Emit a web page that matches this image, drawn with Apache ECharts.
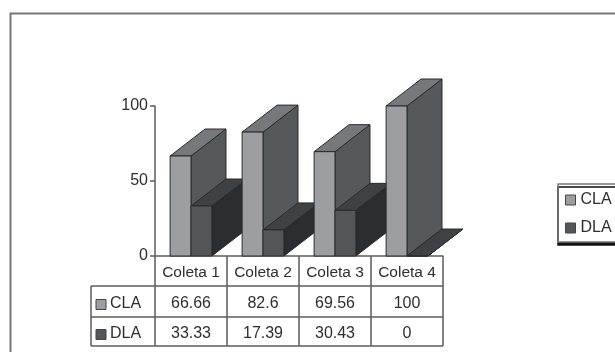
<!DOCTYPE html>
<html>
<head>
<meta charset="utf-8">
<script src="https://cdn.jsdelivr.net/npm/echarts@6/dist/echarts.min.js"></script>
<style>
html, body { margin: 0; padding: 0; background: #fff; }
#main { width: 615px; height: 352px; }
</style>
</head>
<body>
<div id="main"></div>
<script>
// dados
var categories = ['Coleta 1', 'Coleta 2', 'Coleta 3', 'Coleta 4'];
var cla = [66.66, 82.6, 69.56, 100];
var dla = [33.33, 17.39, 30.43, 0];
var claLabels = ['66.66', '82.6', '69.56', '100'];
var dlaLabels = ['33.33', '17.39', '30.43', '0'];
var yTicks = { min: 0, max: 100, interval: 50 };

var font = '"Liberation Sans", Arial, sans-serif';
var textColor = '#2e2e2e';
var lineColor = '#5c5c5c';
var depthX = 35, depthY = 27;

var claColors = { front: '#9c9ea2', side: '#56595c', top: '#76787b' };
var dlaColors = { front: '#54575a', side: '#2b2e30', top: '#3f4244' };

// barra 3D: frente, lado e topo; seriesPos = 0 (CLA) ou 1 (DLA)
function bar3d(seriesPos, colors) {
    return function (params, api) {
        var idx = api.value(0);
        var base = api.coord([idx, 0]);
        var top = api.coord([idx, api.value(1)]);
        var w = api.size([1, 0])[0] * 0.29;
        var x0 = base[0] - w + seriesPos * w;
        var x1 = x0 + w;
        var y0 = top[1], y1 = base[1];
        var stroke = { stroke: '#2a2a2a', lineWidth: 1, lineJoin: 'round' };
        function face(points, fill) {
            return {
                type: 'polygon',
                z2: idx * 2 + seriesPos,
                shape: { points: points },
                style: Object.assign({ fill: fill }, stroke)
            };
        }
        return {
            type: 'group',
            children: [
                face([[x1, y1], [x1 + depthX, y1 - depthY], [x1 + depthX, y0 - depthY], [x1, y0]], colors.side),
                face([[x0, y0], [x0 + depthX, y0 - depthY], [x1 + depthX, y0 - depthY], [x1, y0]], colors.top),
                face([[x0, y1], [x1, y1], [x1, y0], [x0, y0]], colors.front)
            ]
        };
    };
}

function seriesData(values) {
    var out = [];
    for (var i = 0; i < values.length; i++) {
        out.push([i, values[i]]);
    }
    return out;
}

// tabela de dados abaixo do grafico
var tableLeft = 91, tableAxis = 155, tableRight = 443;
var rowY = [256, 286, 317, 346];

function tableGraphics(chart) {
    var items = [];
    function hline(x1, x2, y) {
        items.push({ type: 'line', shape: { x1: x1, y1: y, x2: x2, y2: y }, style: { stroke: lineColor, lineWidth: 1.5 } });
    }
    function cellText(text, x, y, align, size) {
        items.push({
            type: 'text', x: x, y: y + 2,
            style: { text: text, font: size + 'px ' + font, fill: textColor, align: align, verticalAlign: 'middle' }
        });
    }
    function rowHead(name, color, y1, y2) {
        var mid = (y1 + y2) / 2;
        items.push({ type: 'rect', shape: { x: tableLeft + 5, y: mid - 2, width: 10, height: 10 }, style: { fill: color, stroke: '#444', lineWidth: 1 } });
        cellText(name, tableLeft + 19, mid, 'left', 16);
    }
    hline(tableLeft, tableRight, rowY[1]);
    hline(tableLeft, tableRight, rowY[2]);
    hline(tableLeft, tableRight, rowY[3]);
    items.push({ type: 'line', shape: { x1: tableLeft, y1: rowY[1], x2: tableLeft, y2: rowY[3] }, style: { stroke: lineColor, lineWidth: 1.5 } });
    rowHead('CLA', claColors.front, rowY[1], rowY[2]);
    rowHead('DLA', dlaColors.front, rowY[2], rowY[3]);
    for (var i = 0; i < categories.length; i++) {
        var cx = chart.convertToPixel({ xAxisIndex: 0 }, i);
        cellText(claLabels[i], cx, (rowY[1] + rowY[2]) / 2, 'center', 16);
        cellText(dlaLabels[i], cx, (rowY[2] + rowY[3]) / 2, 'center', 16);
    }
    // moldura externa
    items.push({ type: 'polyline', shape: { points: [[10.5, 352], [10.5, 13.5], [615, 13.5]] }, style: { fill: 'none', stroke: '#777', lineWidth: 2 } });
    return items;
}

var chart = echarts.init(document.getElementById('main'), null, { renderer: 'canvas' });
var option = {
    animation: false,
    backgroundColor: '#fff',
    textStyle: { fontFamily: font },
    grid: { left: 155, top: 106, width: 288, height: 150, containLabel: false },
    legend: {
        orient: 'vertical',
        left: 558, top: 184,
        padding: [8, 12, 6, 7],
        itemGap: 12,
        itemWidth: 10, itemHeight: 10,
        backgroundColor: '#fff',
        borderColor: '#777',
        borderWidth: 1.5,
        shadowColor: '#111',
        shadowOffsetX: 0,
        shadowOffsetY: 3,
        shadowBlur: 0,
        data: [
            { name: 'CLA', icon: 'rect', itemStyle: { color: claColors.front, borderColor: '#444', borderWidth: 1 } },
            { name: 'DLA', icon: 'rect', itemStyle: { color: dlaColors.front, borderColor: '#444', borderWidth: 1 } }
        ],
        textStyle: { fontSize: 16, color: textColor, fontFamily: font }
    },
    xAxis: {
        type: 'category',
        data: categories,
        position: 'bottom',
        axisLine: { lineStyle: { color: lineColor, width: 1.5 } },
        axisTick: { show: true, inside: false, length: 90, lineStyle: { color: lineColor, width: 1.5 } },
        axisLabel: { fontSize: 15.5, color: textColor, margin: 9, fontFamily: font, interval: 0 },
        splitLine: { show: false }
    },
    yAxis: {
        type: 'value',
        min: yTicks.min, max: yTicks.max, interval: yTicks.interval,
        axisLine: { show: true, lineStyle: { color: lineColor, width: 1.5 } },
        axisTick: { show: true, length: 5, lineStyle: { color: lineColor, width: 1.5 } },
        axisLabel: { fontSize: 16, color: textColor, margin: 7, fontFamily: font },
        splitLine: { show: false }
    },
    series: [
        { name: 'CLA', type: 'custom', clip: false, renderItem: bar3d(0, claColors), encode: { x: 0, y: 1 }, data: seriesData(cla), itemStyle: { color: claColors.front } },
        { name: 'DLA', type: 'custom', clip: false, renderItem: bar3d(1, dlaColors), encode: { x: 0, y: 1 }, data: seriesData(dla), itemStyle: { color: dlaColors.front } }
    ]
};
chart.setOption(option);
chart.setOption({ graphic: { elements: tableGraphics(chart) } });
</script>
</body>
</html>
